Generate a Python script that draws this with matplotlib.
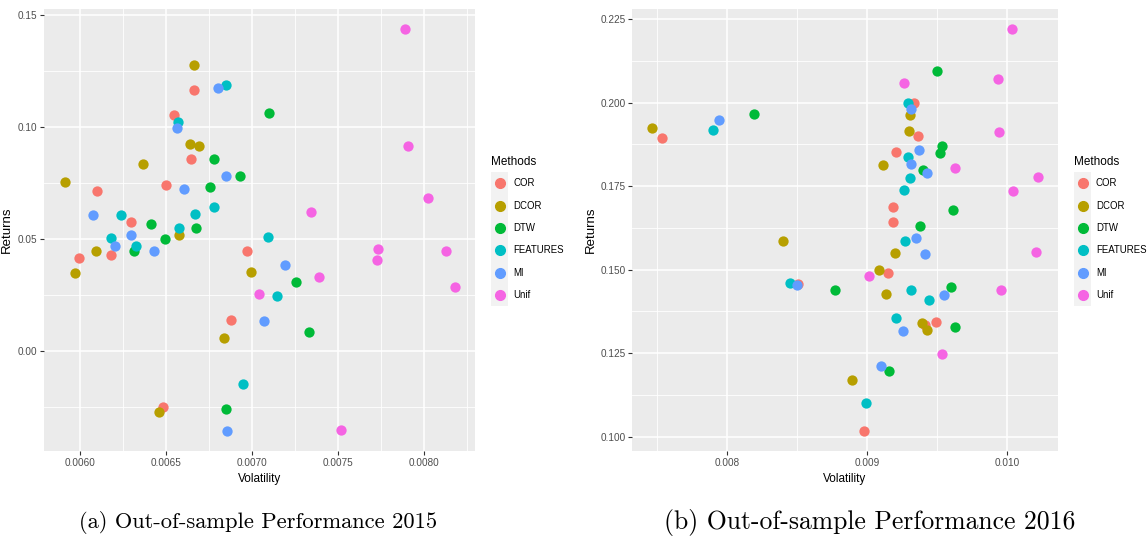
"""Out-of-sample volatility/returns scatter, ggplot-style, two panels."""

import matplotlib

matplotlib.use("Agg")
import matplotlib.pyplot as plt
from matplotlib.lines import Line2D
from matplotlib.patches import Rectangle
from matplotlib.ticker import FixedLocator, FixedFormatter

methods = ["COR", "DCOR", "DTW", "FEATURES", "MI", "Unif"]
colors = ["#F8766D", "#B79F00", "#00BA38", "#00BFC4", "#619CFF", "#F564E3"]

# 2015 (volatility, returns) per method
vol_2015 = {
    "COR": [0.006099, 0.006297, 0.006502, 0.006548, 0.006665, 0.006644, 0.006969, 0.005992, 0.006180, 0.006878, 0.006481],
    "DCOR": [0.005910, 0.006368, 0.006665, 0.006640, 0.006692, 0.006576, 0.005971, 0.006091, 0.006992, 0.006837, 0.006461],
    "DTW": [0.006413, 0.006492, 0.006777, 0.006930, 0.006754, 0.006674, 0.007099, 0.006316, 0.006847, 0.007254, 0.007329],
    "FEATURES": [0.006237, 0.006180, 0.006326, 0.006572, 0.006851, 0.006779, 0.006670, 0.006576, 0.007095, 0.006948, 0.007143],
    "MI": [0.006074, 0.006297, 0.006203, 0.006605, 0.006566, 0.006802, 0.006847, 0.006428, 0.006855, 0.007194, 0.007070],
    "Unif": [0.007890, 0.007907, 0.008023, 0.007343, 0.007390, 0.007041, 0.007520, 0.007735, 0.007729, 0.008130, 0.008182],
}
ret_2015 = {
    "COR": [0.0714, 0.0574, 0.0742, 0.1054, 0.1165, 0.0857, 0.0448, 0.0417, 0.0427, 0.0138, -0.0249],
    "DCOR": [0.0754, 0.0836, 0.1277, 0.0925, 0.0917, 0.0516, 0.0348, 0.0448, 0.0353, 0.0057, -0.0272],
    "DTW": [0.0568, 0.0500, 0.0857, 0.0781, 0.0732, 0.0550, 0.1061, 0.0448, -0.0260, 0.0310, 0.0085],
    "FEATURES": [0.0607, 0.0504, 0.0470, 0.1024, 0.1186, 0.0641, 0.0613, 0.0550, 0.0509, -0.0147, 0.0246],
    "MI": [0.0607, 0.0518, 0.0470, 0.0723, 0.0997, 0.1173, 0.0781, 0.0448, -0.0359, 0.0384, 0.0134],
    "Unif": [0.1436, 0.0915, 0.0682, 0.0621, 0.0332, 0.0254, -0.0351, 0.0455, 0.0405, 0.0448, 0.0287],
}

# 2016
vol_2016 = {
    "COR": [0.007534, 0.009336, 0.009360, 0.009203, 0.009184, 0.009184, 0.009151, 0.009412, 0.009491, 0.008977, 0.008507],
    "DCOR": [0.007465, 0.008402, 0.009303, 0.009298, 0.009115, 0.009198, 0.009084, 0.009131, 0.009389, 0.009427, 0.008893],
    "DTW": [0.008190, 0.009498, 0.009531, 0.009519, 0.009396, 0.009612, 0.009379, 0.008772, 0.009598, 0.009628, 0.009158],
    "FEATURES": [0.007900, 0.008447, 0.009293, 0.009293, 0.009303, 0.009262, 0.009267, 0.009310, 0.009441, 0.009203, 0.008994],
    "MI": [0.007941, 0.008497, 0.009315, 0.009367, 0.009315, 0.009429, 0.009351, 0.009410, 0.009546, 0.009258, 0.009101],
    "Unif": [0.010031, 0.009931, 0.009262, 0.009940, 0.009624, 0.010218, 0.010040, 0.010206, 0.009013, 0.009955, 0.009534],
}
ret_2016 = {
    "COR": [0.1893, 0.2000, 0.1901, 0.1852, 0.1687, 0.1642, 0.1491, 0.1334, 0.1343, 0.1016, 0.1457],
    "DCOR": [0.1924, 0.1587, 0.1962, 0.1916, 0.1812, 0.1551, 0.1499, 0.1427, 0.1340, 0.1319, 0.1169],
    "DTW": [0.1965, 0.2096, 0.1870, 0.1848, 0.1799, 0.1679, 0.1632, 0.1438, 0.1447, 0.1328, 0.1198],
    "FEATURES": [0.1918, 0.1461, 0.2000, 0.1838, 0.1774, 0.1739, 0.1587, 0.1438, 0.1409, 0.1354, 0.1101],
    "MI": [0.1948, 0.1454, 0.1982, 0.1857, 0.1816, 0.1789, 0.1595, 0.1546, 0.1423, 0.1316, 0.1211],
    "Unif": [0.2220, 0.2072, 0.2058, 0.1913, 0.1804, 0.1777, 0.1736, 0.1554, 0.1482, 0.1438, 0.1247],
}

x_ticks_2015 = [0.0060, 0.0065, 0.0070, 0.0075, 0.0080]
x_labels_2015 = ["0.0060", "0.0065", "0.0070", "0.0075", "0.0080"]
y_ticks_2015 = [0.00, 0.05, 0.10, 0.15]
y_labels_2015 = ["0.00", "0.05", "0.10", "0.15"]
x_ticks_2016 = [0.008, 0.009, 0.010]
x_labels_2016 = ["0.008", "0.009", "0.010"]
y_ticks_2016 = [0.100, 0.125, 0.150, 0.175, 0.200, 0.225]
y_labels_2016 = ["0.100", "0.125", "0.150", "0.175", "0.200", "0.225"]

plt.rcParams["font.family"] = ["Liberation Sans", "DejaVu Sans"]


def minor_between(ticks, lo, hi):
    step = ticks[1] - ticks[0]
    cands = [ticks[0] - step / 2] + [t + step / 2 for t in ticks]
    return [c for c in cands if lo < c < hi]


def style_panel(ax, xlim, ylim, xt, xl, yt, yl, ylab_x):
    ax.set_facecolor("#EBEBEB")
    for s in ax.spines.values():
        s.set_visible(False)
    ax.set_xlim(*xlim)
    ax.set_ylim(*ylim)
    ax.xaxis.set_major_locator(FixedLocator(xt))
    ax.xaxis.set_major_formatter(FixedFormatter(xl))
    ax.yaxis.set_major_locator(FixedLocator(yt))
    ax.yaxis.set_major_formatter(FixedFormatter(yl))
    for v in minor_between(xt, *xlim):
        ax.axvline(v, color="white", lw=0.6, zorder=0.5)
    for v in minor_between(yt, *ylim):
        ax.axhline(v, color="white", lw=0.6, zorder=0.5)
    ax.grid(True, which="major", color="white", lw=1.1, zorder=0.6)
    ax.set_axisbelow(True)
    ax.tick_params(length=3, width=0.8, color="#333333", labelcolor="#4D4D4D",
                   labelsize=7.2, pad=2)
    ax.set_xlabel("Volatility", fontsize=8.5, color="black", labelpad=4)
    ax.set_ylabel("Returns", fontsize=9.5, color="black")
    ax.yaxis.set_label_coords(ylab_x, 0.5)


def draw_legend(fig, x0, y_title):
    W, H = fig.get_size_inches() * fig.dpi
    fig.text(x0 / W, 1 - y_title / H, "Methods", fontsize=8.5, va="center", ha="left")
    top = y_title + 10
    step = 22.4
    fig.add_artist(Rectangle((x0 / W, 1 - (top + step * 6) / H), 17 / W, step * 6 / H,
                             transform=fig.transFigure, color="#F2F2F2", lw=0))
    for i, (m, c) in enumerate(zip(methods, colors)):
        yc = 1 - (top + step * (i + 0.5)) / H
        fig.add_artist(Line2D([(x0 + 8.5) / W], [yc], marker="o", ms=7, color=c,
                              transform=fig.transFigure, lw=0))
        fig.text((x0 + 22) / W, yc, m, fontsize=6.9, va="center", ha="left")


fig = plt.figure(figsize=(11.47, 5.39), dpi=100)
ax1 = fig.add_axes([0.03836, 0.1633, 0.3758, 0.820])
ax2 = fig.add_axes([0.5513, 0.1638, 0.3709, 0.820])

for m, c in zip(methods, colors):
    ax1.scatter(vol_2015[m], ret_2015[m], s=55, color=c, lw=0, zorder=3)
    ax2.scatter(vol_2016[m], ret_2016[m], s=55, color=c, lw=0, zorder=3)

style_panel(ax1, (0.00579, 0.008297), (-0.0446, 0.1527),
            x_ticks_2015, x_labels_2015, y_ticks_2015, y_labels_2015, -0.072)
style_panel(ax2, (0.007325, 0.010359), (0.09581, 0.2281),
            x_ticks_2016, x_labels_2016, y_ticks_2016, y_labels_2016, -0.083)

draw_legend(fig, 491, 162)
draw_legend(fig, 1074, 162)

fig.text(258 / 1147, 1 - 522 / 539, "(a) Out-of-sample Performance 2015",
         family="cmr10", fontsize=16.2, ha="center", va="center")
fig.text(870 / 1147, 1 - 522 / 539, "(b) Out-of-sample Performance 2016",
         family="cmr10", fontsize=18.5, ha="center", va="center")

fig.savefig("out.png", dpi=100)
